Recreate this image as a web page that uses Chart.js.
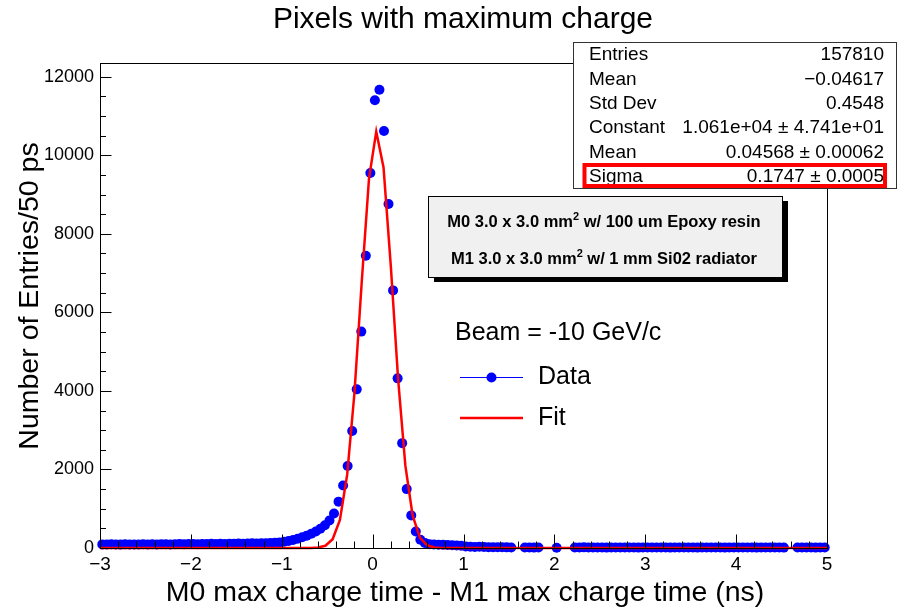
<!DOCTYPE html>
<html>
<head>
<meta charset="utf-8">
<script src="https://cdn.jsdelivr.net/npm/chart.js@4/dist/chart.umd.min.js"></script>
<style>
  html, body { margin: 0; padding: 0; background: #ffffff; }
  canvas { display: block; }
</style>
</head>
<body>
<canvas id="c" width="898" height="607"></canvas>
<script>
// Histogram binning: 50 ps bins from -3 ns to 5 ns
const binStart = -3;
const binWidth = 0.05;

// Entries per bin (null = empty bin, not drawn)
const counts = [
  92, 88, 95, 90, 86, 93, 89, 91, 87, 94,
  90, 96, 92, 98, 94, 91, 97, 100, 95, 99,
  101, 98, 104, 100, 106, 103, 108, 105, 110, 107,
  112, 109, 115, 118, 114, 120, 124, 128, 133, 140,
  160, 180, 205, 235, 275, 315, 365, 420, 490, 580,
  700, 880, 1180, 1590, 2090, 2980, 4040, 5510, 7440, 9550,
  11400, 11670, 10620, 8760, 6560, 4320, 2670, 1500, 830, 420,
  210, 130, 95, 88, 82, 85, 78, 72, 66, 58,
  40, 35, 28, 30, 24, 22, 20, 18, 22, 16,
  15, null, null, 12, 14, 10, 12, null, null, null,
  8, null, null, null, 14, 12, 16, 11, 13, 15,
  12, 10, 14, 13, 11, 15, 12, 14, 10, 13,
  12, 15, 11, 13, 14, 10, 12, 13, 11, 14,
  12, 10, 13, 15, 11, 12, 14, 10, 13, 12,
  11, 14, 12, 13, 10, 12, 15, 11, 13, 12,
  10, null, null, 11, 13, 12, 14, 10, 12, 13
];
const binCenters = counts.map((_, i) => binStart + binWidth * (i + 0.5));

// Gaussian fit result
const fitConstant = 1.061e4;
const fitMean = 0.04568;
const fitSigma = 0.1747;
const fitRange = [-3, 5];
const fitSamples = 100;

// Axis ranges and tick labels
const xRange = [-3, 5];
const yRange = [0, 12350];
const xTickValues = [-3, -2, -1, 0, 1, 2, 3, 4, 5];
const yTickValues = [0, 2000, 4000, 6000, 8000, 10000, 12000];
const xMinorStep = 0.2;
const yMinorStep = 500;

// Statistics box rows
const statsRows = [
  ["Entries", "157810"],
  ["Mean", "\u22120.04617"],
  ["Std Dev", "0.4548"],
  ["Constant", "1.061e+04 \u00b1 4.741e+01"],
  ["Mean", "0.04568 \u00b1 0.00062"],
  ["Sigma", "0.1747 \u00b1 0.0005"]
];

const chartTitle = "Pixels with maximum charge";
const xTitle = "M0 max charge time - M1 max charge time (ns)";
const yTitle = "Number of Entries/50 ps";
const beamText = "Beam = -10 GeV/c";
const seriesNames = ["Data", "Fit"];
const detectorLines = [
  ["M0 3.0 x 3.0 mm", "2", " w/ 100 um Epoxy resin"],
  ["M1 3.0 x 3.0 mm", "2", " w/ 1 mm Si02 radiator"]
];

const FONT = '"Liberation Sans", Arial, Helvetica, sans-serif';
const BLUE = '#0000ff';
const RED = '#ff0000';

const dataPoints = binCenters
  .map((x, i) => ({ x: x, y: counts[i] }))
  .filter(p => p.y !== null);

const fitPoints = [];
for (let k = 0; k <= fitSamples; k++) {
  const x = fitRange[0] + (fitRange[1] - fitRange[0]) * k / fitSamples;
  const z = (x - fitMean) / fitSigma;
  fitPoints.push({ x: x, y: fitConstant * Math.exp(-0.5 * z * z) });
}

function fmtTick(v) {
  return v < 0 ? '\u2212' + Math.abs(v) : String(v);
}

// Frame and inward-pointing ticks
const framePlugin = {
  id: 'frameTicks',
  afterDatasetsDraw(chart) {
    const ctx = chart.ctx;
    const xs = chart.scales.x, ys = chart.scales.y;
    const L = Math.round(xs.left) + 0.5, R = Math.round(xs.right) + 0.5;
    const T = Math.round(ys.top) + 0.5, B = Math.round(ys.bottom) + 0.5;
    ctx.save();
    ctx.strokeStyle = '#000';
    ctx.lineWidth = 1;
    ctx.strokeRect(L, T, R - L, B - T);
    ctx.beginPath();
    const nx = Math.round((xRange[1] - xRange[0]) / xMinorStep);
    for (let k = 0; k <= nx; k++) {
      const v = xRange[0] + k * xMinorStep;
      const major = xTickValues.some(t => Math.abs(t - v) < 1e-6);
      const px = Math.round(xs.getPixelForValue(v)) + 0.5;
      const len = major ? 14 : 7;
      ctx.moveTo(px, B);
      ctx.lineTo(px, B - len);
    }
    for (let v = yRange[0]; v <= yRange[1] + 1e-6; v += yMinorStep) {
      const major = yTickValues.includes(v);
      const py = Math.round(ys.getPixelForValue(v)) + 0.5;
      const len = major ? 11 : 5.5;
      ctx.moveTo(L, py);
      ctx.lineTo(L + len, py);
    }
    ctx.stroke();
    ctx.restore();
  },
  afterDraw(chart) {
    const ctx = chart.ctx;
    ctx.save();
    ctx.fillStyle = '#000';
    ctx.textBaseline = 'alphabetic';

    // Title
    ctx.font = '30px ' + FONT;
    ctx.textAlign = 'center';
    ctx.fillText(chartTitle, 463, 28);

    // Axis titles
    ctx.font = '28.5px ' + FONT;
    ctx.fillText(xTitle, 465, 601);
    ctx.save();
    ctx.translate(38, 296);
    ctx.rotate(-Math.PI / 2);
    ctx.fillText(yTitle, 0, 0);
    ctx.restore();

    // Statistics box
    ctx.fillStyle = '#fff';
    ctx.fillRect(573.5, 42.5, 323, 146);
    ctx.strokeStyle = '#333';
    ctx.lineWidth = 1;
    ctx.strokeRect(573.5, 42.5, 323, 146);
    ctx.fillStyle = '#000';
    ctx.font = '19px ' + FONT;
    ctx.textBaseline = 'middle';
    statsRows.forEach((row, i) => {
      const y = 55 + i * 24.35;
      ctx.textAlign = 'left';
      ctx.fillText(row[0], 589, y);
      ctx.textAlign = 'right';
      ctx.fillText(row[1], 884, y);
    });
    ctx.strokeStyle = RED;
    ctx.lineWidth = 4;
    ctx.strokeRect(584.5, 165, 300.5, 21);

    // Detector description box with shadow
    ctx.fillStyle = '#000';
    ctx.fillRect(434, 201, 354, 81);
    ctx.fillStyle = '#f0f0f0';
    ctx.fillRect(428.5, 196.5, 354, 81);
    ctx.strokeStyle = '#000';
    ctx.lineWidth = 1;
    ctx.strokeRect(428.5, 196.5, 354, 81);
    ctx.fillStyle = '#000';
    ctx.textBaseline = 'alphabetic';
    detectorLines.forEach((parts, i) => {
      const y = 227 + i * 37;
      const big = 'bold 16.5px ' + FONT, small = 'bold 11px ' + FONT;
      ctx.font = big; const w0 = ctx.measureText(parts[0]).width;
      ctx.font = small; const w1 = ctx.measureText(parts[1]).width;
      ctx.font = big; const w2 = ctx.measureText(parts[2]).width;
      let x = 604 - (w0 + w1 + w2) / 2;
      ctx.textAlign = 'left';
      ctx.font = big; ctx.fillText(parts[0], x, y); x += w0;
      ctx.font = small; ctx.fillText(parts[1], x, y - 7); x += w1;
      ctx.font = big; ctx.fillText(parts[2], x, y);
    });

    // Legend
    ctx.textAlign = 'left';
    ctx.textBaseline = 'middle';
    ctx.font = '25px ' + FONT;
    ctx.fillText(beamText, 455, 333);
    ctx.strokeStyle = BLUE;
    ctx.lineWidth = 1;
    ctx.beginPath(); ctx.moveTo(460, 377.5); ctx.lineTo(523, 377.5); ctx.stroke();
    ctx.fillStyle = BLUE;
    ctx.beginPath(); ctx.arc(491.5, 377.5, 5, 0, Math.PI * 2); ctx.fill();
    ctx.strokeStyle = RED;
    ctx.lineWidth = 2.5;
    ctx.beginPath(); ctx.moveTo(460, 418); ctx.lineTo(523, 418); ctx.stroke();
    ctx.fillStyle = '#000';
    ctx.fillText(seriesNames[0], 538, 377);
    ctx.fillText(seriesNames[1], 538, 418);
    ctx.restore();
  }
};

new Chart(document.getElementById('c'), {
  type: 'scatter',
  data: {
    datasets: [
      {
        label: seriesNames[1],
        type: 'line',
        data: fitPoints,
        borderColor: RED,
        borderWidth: 2.5,
        pointRadius: 0,
        tension: 0,
        fill: false,
        order: 0,
        clip: false
      },
      {
        label: seriesNames[0],
        data: dataPoints,
        showLine: false,
        pointStyle: 'circle',
        pointRadius: 5,
        pointBorderWidth: 0,
        backgroundColor: BLUE,
        borderColor: BLUE,
        order: 1,
        clip: false
      }
    ]
  },
  options: {
    responsive: false,
    animation: false,
    devicePixelRatio: 1,
    layout: { padding: { top: 63, right: 71, left: 0, bottom: 0 } },
    plugins: { legend: { display: false }, tooltip: { enabled: false }, title: { display: false } },
    scales: {
      x: {
        type: 'linear',
        min: xRange[0], max: xRange[1],
        afterFit(s) { s.height = 59; },
        afterBuildTicks(s) { s.ticks = xTickValues.map(v => ({ value: v })); },
        grid: { display: false, drawTicks: false },
        border: { display: false },
        ticks: {
          padding: 5, color: '#000',
          font: { family: FONT, size: 19 },
          callback: fmtTick, maxRotation: 0, autoSkip: false
        }
      },
      y: {
        type: 'linear',
        min: yRange[0], max: yRange[1],
        afterFit(s) { s.width = 100; },
        afterBuildTicks(s) { s.ticks = yTickValues.map(v => ({ value: v })); },
        grid: { display: false, drawTicks: false },
        border: { display: false },
        ticks: {
          padding: 6, color: '#000',
          font: { family: FONT, size: 18 },
          callback: fmtTick, autoSkip: false
        }
      }
    }
  },
  plugins: [framePlugin]
});
</script>
</body>
</html>
